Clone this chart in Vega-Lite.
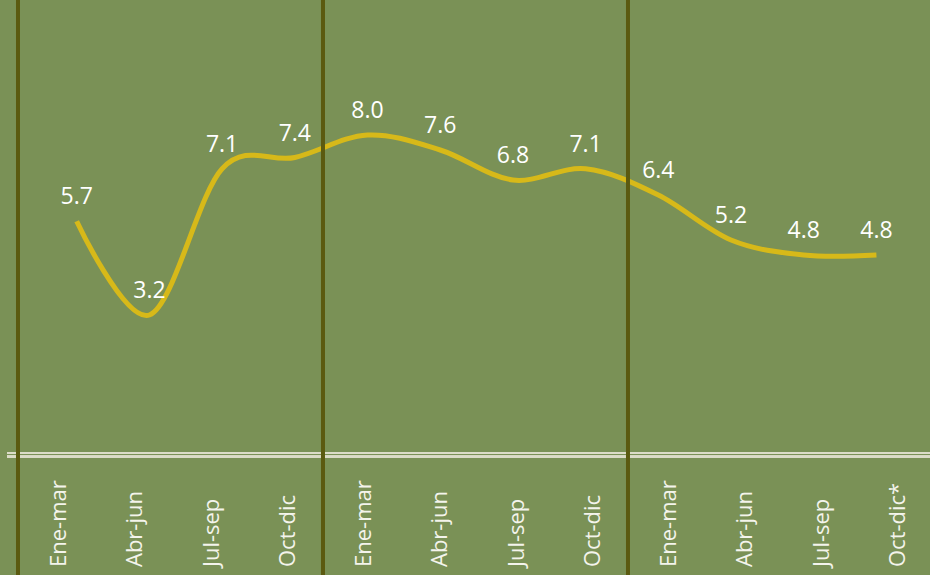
{
  "$schema": "https://vega.github.io/schema/vega-lite/v6.json",
  "width": 930,
  "height": 575,
  "autosize": {"type": "none"},
  "padding": 0,
  "background": "#7a9156",
  "config": {"view": {"stroke": null}},
  "data": {
    "values": [
      {"i": 1, "periodo": "Ene-mar", "valor": 5.7},
      {"i": 2, "periodo": "Abr-jun", "valor": 3.2},
      {"i": 3, "periodo": "Jul-sep", "valor": 7.1},
      {"i": 4, "periodo": "Oct-dic", "valor": 7.4},
      {"i": 5, "periodo": "Ene-mar", "valor": 8.0},
      {"i": 6, "periodo": "Abr-jun", "valor": 7.6},
      {"i": 7, "periodo": "Jul-sep", "valor": 6.8},
      {"i": 8, "periodo": "Oct-dic", "valor": 7.1},
      {"i": 9, "periodo": "Ene-mar", "valor": 6.4},
      {"i": 10, "periodo": "Abr-jun", "valor": 5.2},
      {"i": 11, "periodo": "Jul-sep", "valor": 4.8},
      {"i": 12, "periodo": "Oct-dic*", "valor": 4.8}
    ]
  },
  "resolve": {"scale": {"x": "independent"}},
  "layer": [
    {
      "mark": {"type": "rule", "color": "#dcdcc8", "strokeWidth": 1.8},
      "encoding": {
        "x": {"datum": 0.356, "type": "quantitative", "scale": {"domain": [0.264, 12.461], "nice": false, "zero": false}, "axis": null},
        "x2": {"datum": 12.461},
        "y": {"datum": -0.48, "type": "quantitative", "scale": {"domain": [-3.733, 11.6], "nice": false, "zero": false}, "axis": null}
      }
    },
    {
      "mark": {"type": "rule", "color": "#dcdcc8", "strokeWidth": 1.8},
      "encoding": {
        "x": {"datum": 0.356, "type": "quantitative", "scale": {"domain": [0.264, 12.461], "nice": false, "zero": false}, "axis": null},
        "x2": {"datum": 12.461},
        "y": {"datum": -0.575, "type": "quantitative", "scale": {"domain": [-3.733, 11.6], "nice": false, "zero": false}, "axis": null}
      }
    },
    {
      "mark": {"type": "line", "color": "#d7b919", "strokeWidth": 5, "interpolate": "cardinal"},
      "encoding": {
        "x": {"field": "i", "type": "quantitative", "scale": {"domain": [-0.055, 12.737], "nice": false, "zero": false}, "axis": null},
        "y": {"field": "valor", "type": "quantitative", "scale": {"domain": [-3.733, 11.6], "nice": false, "zero": false}, "axis": null}
      }
    },
    {
      "mark": {"type": "text", "color": "#ffffff", "font": "Open Sans", "fontSize": 23, "baseline": "alphabetic", "align": "center", "dy": -17},
      "encoding": {
        "x": {"field": "i", "type": "quantitative", "scale": {"domain": [-0.055, 12.737], "nice": false, "zero": false}, "axis": null},
        "y": {"field": "valor", "type": "quantitative", "scale": {"domain": [-3.733, 11.6], "nice": false, "zero": false}, "axis": null},
        "text": {"field": "valor", "type": "quantitative", "format": ".1f"}
      }
    },
    {
      "mark": {"type": "text", "color": "#f4f4ec", "font": "Open Sans", "fontSize": 22, "angle": 270, "align": "left", "baseline": "middle", "dy": 3},
      "encoding": {
        "x": {"field": "i", "type": "quantitative", "scale": {"domain": [0.264, 12.461], "nice": false, "zero": false}, "axis": null},
        "y": {"datum": -3.52, "type": "quantitative", "scale": {"domain": [-3.733, 11.6], "nice": false, "zero": false}, "axis": null},
        "text": {"field": "periodo", "type": "nominal"}
      }
    },
    {
      "data": {"values": [{"corte": 0.5}, {"corte": 4.5}, {"corte": 8.5}]},
      "mark": {"type": "rule", "color": "#5b5a10", "strokeWidth": 4},
      "encoding": {
        "x": {"field": "corte", "type": "quantitative", "scale": {"domain": [0.264, 12.461], "nice": false, "zero": false}, "axis": null}
      }
    }
  ]
}
